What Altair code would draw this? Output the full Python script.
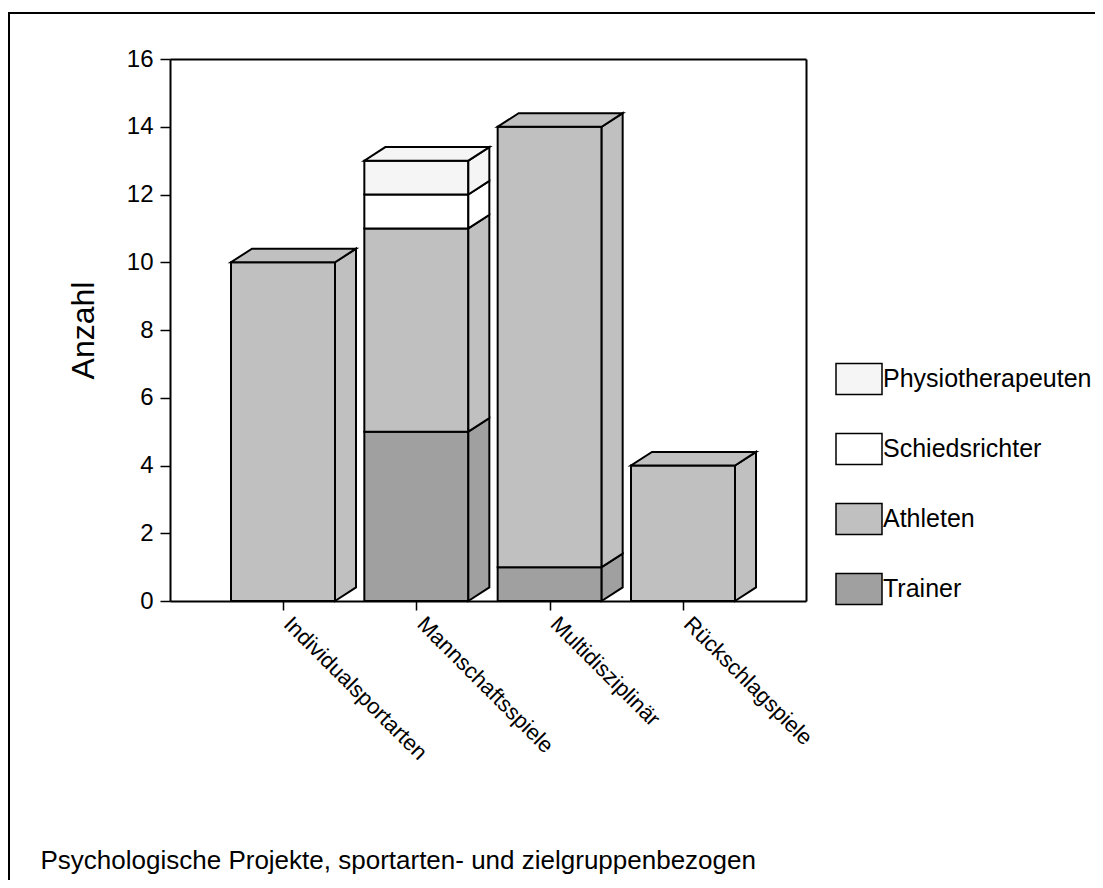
import json
import altair as alt
import pandas as pd

# ---- data ----
categories = ["Individualsportarten", "Mannschaftsspiele", "Multidisziplinär", "Rückschlagspiele"]
groups = ["Trainer", "Athleten", "Schiedsrichter", "Physiotherapeuten"]
trainer = [0, 5, 1, 0]
athleten = [10, 6, 13, 4]
schiedsrichter = [0, 1, 0, 0]
physiotherapeuten = [0, 1, 0, 0]

legend_order = ["Physiotherapeuten", "Schiedsrichter", "Athleten", "Trainer"]
legend_colors = ["#f5f5f5", "#ffffff", "#c0c0c0", "#a0a0a0"]

# ---- 3D box geometry (in data units) ----
HALF = 0.39     # half width of the front face
DX = 0.1575     # depth, horizontal
DY = 0.40       # depth, vertical

front_rows, side_rows, top_rows = [], [], []
for i, cat in enumerate(categories):
    vals = [trainer[i], athleten[i], schiedsrichter[i], physiotherapeuten[i]]
    base = 0
    last = None
    xl, xr = i - HALF, i + HALF
    for g, v in zip(groups, vals):
        if v == 0:
            continue
        y0, y1 = base, base + v
        seg = f"{i}-{g}"
        front_rows.append(dict(seg=seg, Gruppe=g, Kategorie=cat, x=xl, x2=xr, y=y0, y2=y1))
        side_rows.append(dict(seg=seg, Gruppe=g, x=xr, y=y0, y2=y1))
        side_rows.append(dict(seg=seg, Gruppe=g, x=xr + DX, y=y0 + DY, y2=y1 + DY))
        base = y1
        last = g
    T = base
    seg = f"{i}-top"
    top_rows += [
        dict(seg=seg, Gruppe=last, x=xl, y=T, y2=T),
        dict(seg=seg, Gruppe=last, x=xl + DX, y=T, y2=T + DY),
        dict(seg=seg, Gruppe=last, x=xr, y=T, y2=T + DY),
        dict(seg=seg, Gruppe=last, x=xr + DX, y=T + DY, y2=T + DY),
    ]

front = pd.DataFrame(front_rows)
side = pd.DataFrame(side_rows)
top = pd.DataFrame(top_rows)

FONT = "Liberation Sans"
W, H = 1098, 880           # view; right and bottom frame edges fall outside the page
PAD = {"left": 1, "top": 5, "right": -12, "bottom": -13}

xs = alt.Scale(domain=[-0.8475, 3.9225], range=[161, 797], nice=False, zero=False)
ys = alt.Scale(domain=[0, 16], range=[588, 46], nice=False, zero=True)
cs = alt.Scale(domain=legend_order, range=legend_colors)

label_expr = json.dumps(categories) + "[datum.value]"

x_bottom = alt.Axis(
    orient="bottom", offset=588 - H,
    values=[0, 1, 2, 3], labelExpr=label_expr, labelAngle=45, labelAlign="left",
    labelBaseline="middle", labelFontSize=22, labelPadding=10, labelOffset=4,
    labelOverlap=False, labelLimit=0,
    labelBound=False, labelFlush=False, tickSize=9, tickWidth=1.5, tickColor="black",
    domainColor="black", domainWidth=2, grid=False, labelColor="black",
    title="Psychologische Projekte, sportarten- und zielgruppenbezogen",
    titleFontSize=26, titleFontWeight="normal", titleColor="black",
    titleX=31, titleY=267, titleAlign="left", titleBaseline="alphabetic", titleAngle=0,
)
y_left = alt.Axis(
    orient="left", offset=-161, values=list(range(0, 17, 2)), labelFontSize=24,
    labelPadding=7, tickSize=10, tickWidth=1.5, tickColor="black", domainColor="black",
    domainWidth=2, grid=False, labelColor="black",
    title="Anzahl", titleFontSize=32, titleFontWeight="normal", titleColor="black",
    titleAngle=-90, titleX=-77, titleY=317, titleAlign="center", titleBaseline="alphabetic",
)
x_top = alt.Axis(orient="top", offset=-46, ticks=False, labels=False, title=None,
                 domainColor="black", domainWidth=2, grid=False)
y_right = alt.Axis(orient="right", offset=797 - W, ticks=False, labels=False, title=None,
                   domainColor="black", domainWidth=2, grid=False)

legend = alt.Legend(
    title=None, orient="none", legendX=826, legendY=342,
    symbolType="M-1,-0.674H1V0.674H-1Z", symbolSize=2116,
    symbolStrokeColor="black", symbolStrokeWidth=1.5, symbolOpacity=1,
    labelFontSize=25, labelOffset=0, rowPadding=27, padding=0, labelColor="black",
    labelLimit=0,
)

color_enc = alt.Color("Gruppe:N", scale=cs, legend=legend)

front_layer = alt.Chart(front).mark_rect(stroke="black", strokeWidth=2, opacity=1).encode(
    x=alt.X("x:Q", scale=xs, axis=x_bottom),
    x2="x2:Q",
    y=alt.Y("y:Q", scale=ys, axis=y_left),
    y2="y2:Q",
    color=color_enc,
)

side_layer = alt.Chart(side).mark_area(stroke="black", strokeWidth=2, opacity=1,
                                       orient="vertical", strokeJoin="miter").encode(
    x=alt.X("x:Q", scale=xs, axis=x_top),
    y=alt.Y("y:Q", scale=ys, axis=y_right),
    y2="y2:Q",
    color=color_enc,
    detail="seg:N",
)

top_layer = alt.Chart(top).mark_area(stroke="black", strokeWidth=2, opacity=1,
                                     orient="vertical", strokeJoin="miter").encode(
    x=alt.X("x:Q", scale=xs, axis=None),
    y=alt.Y("y:Q", scale=ys, axis=None),
    y2="y2:Q",
    color=color_enc,
    detail="seg:N",
)

chart = (
    alt.layer(front_layer, side_layer, top_layer)
    .resolve_axis(x="independent", y="independent")
    .properties(
        width=W, height=H,
        autosize=alt.AutoSizeParams(type="none"),
        padding=PAD,
    )
    .configure(font=FONT)
    .configure_view(stroke="black", strokeWidth=2, fill="white")
    .configure_axis(labelFont=FONT, titleFont=FONT)
    .configure_legend(labelFont=FONT)
)

chart.save("out.html", embed_options={"renderer": "svg", "actions": False})
